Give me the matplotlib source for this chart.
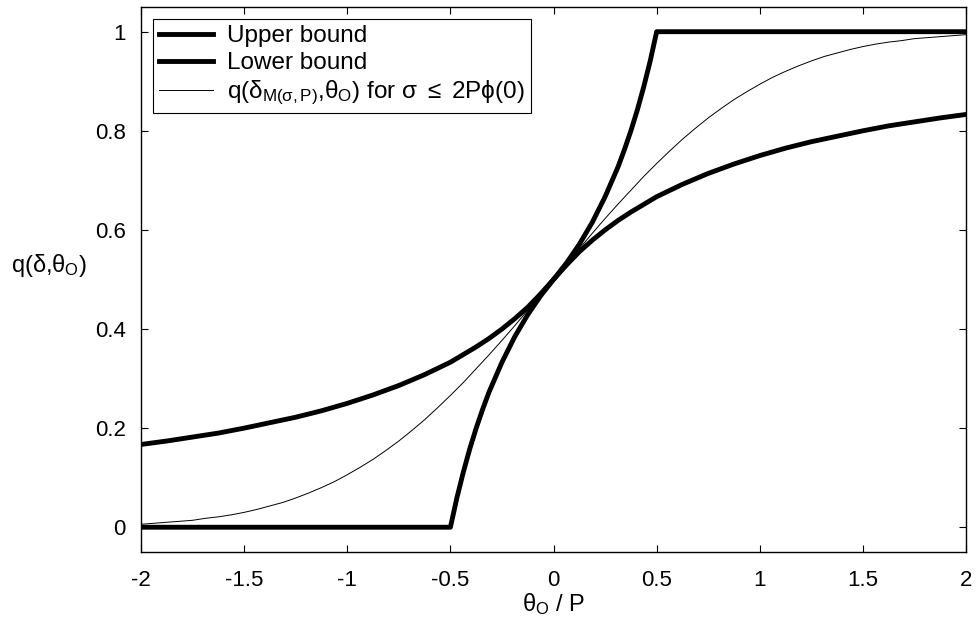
import matplotlib; matplotlib.use("Agg")
import matplotlib.pyplot as plt

plt.rcParams["font.family"] = ["Liberation Sans", "DejaVu Sans"]
plt.rcParams["mathtext.fontset"] = "custom"
plt.rcParams["mathtext.rm"] = "Liberation Sans"
plt.rcParams["mathtext.it"] = "Liberation Sans"
plt.rcParams["mathtext.sf"] = "Liberation Sans"

# values (theta_O / P on x)
x_thin = [-2, -1.9375, -1.875, -1.8125, -1.75, -1.6875, -1.625, -1.5625, -1.5, -1.4375,
          -1.375, -1.3125, -1.25, -1.1875, -1.125, -1.0625, -1, -0.9375, -0.875, -0.8125,
          -0.75, -0.6875, -0.625, -0.5625, -0.5, -0.4375, -0.375, -0.3125, -0.25, -0.1875,
          -0.125, -0.0625, 0, 0.0625, 0.125, 0.1875, 0.25, 0.3125, 0.375, 0.4375, 0.5,
          0.5625, 0.625, 0.6875, 0.75, 0.8125, 0.875, 0.9375, 1, 1.0625, 1.125, 1.1875,
          1.25, 1.3125, 1.375, 1.4375, 1.5, 1.5625, 1.625, 1.6875, 1.75, 1.8125, 1.875,
          1.9375, 2]
thin = [0.006, 0.008, 0.010, 0.012, 0.014, 0.018, 0.021, 0.025, 0.030, 0.036,
        0.043, 0.050, 0.059, 0.069, 0.080, 0.092, 0.106, 0.121, 0.137, 0.155,
        0.174, 0.195, 0.217, 0.241, 0.266, 0.292, 0.320, 0.348, 0.377, 0.407,
        0.438, 0.469, 0.500, 0.531, 0.562, 0.593, 0.623, 0.652, 0.680, 0.708, 0.734,
        0.759, 0.783, 0.805, 0.826, 0.845, 0.863, 0.879, 0.894, 0.908, 0.920, 0.931,
        0.941, 0.950, 0.957, 0.964, 0.970, 0.975, 0.979, 0.982, 0.986, 0.988, 0.990,
        0.992, 0.994]

x_low = [-2, -1.875, -1.75, -1.625, -1.5, -1.375, -1.25, -1.125, -1, -0.875, -0.75, -0.625,
         -0.5, -0.375, -0.3125, -0.25, -0.1875, -0.125, -0.0625, 0, 0.0625, 0.125, 0.1875,
         0.25, 0.3125, 0.375, 0.5, 0.625, 0.75, 0.875, 1, 1.125, 1.25, 1.375, 1.5, 1.625,
         1.75, 1.875, 2]
lower = [0.167, 0.174, 0.182, 0.190, 0.200, 0.211, 0.222, 0.235, 0.250, 0.267, 0.286, 0.308,
         0.333, 0.364, 0.381, 0.400, 0.421, 0.444, 0.471, 0.500, 0.529, 0.556, 0.579,
         0.600, 0.619, 0.636, 0.667, 0.692, 0.714, 0.733, 0.750, 0.765, 0.778, 0.789,
         0.800, 0.810, 0.818, 0.826, 0.833]

x_up = [-2, -0.5, -0.46875, -0.4375, -0.40625, -0.375, -0.34375, -0.3125, -0.25, -0.1875,
        -0.125, -0.0625, 0, 0.0625, 0.125, 0.1875, 0.25, 0.3125, 0.34375, 0.375, 0.40625,
        0.4375, 0.46875, 0.5, 2]
upper = [0, 0, 0.059, 0.111, 0.158, 0.200, 0.238, 0.273, 0.333, 0.385,
         0.429, 0.467, 0.500, 0.533, 0.571, 0.615, 0.667, 0.727, 0.762, 0.800, 0.842,
         0.889, 0.941, 1, 1]

xticks = [-2, -1.5, -1, -0.5, 0, 0.5, 1, 1.5, 2]
xtick_labels = ["-2", "-1.5", "-1", "-0.5", "0", "0.5", "1", "1.5", "2"]
yticks = [0, 0.2, 0.4, 0.6, 0.8, 1]
ytick_labels = ["0", "0.2", "0.4", "0.6", "0.8", "1"]

fig = plt.figure(figsize=(9.76, 6.29), dpi=100)
ax = fig.add_axes([0.1445, 0.1224, 0.8453, 0.8666])

ax.plot(x_up, upper, "-", color="k", lw=3.5, solid_joinstyle="round", label="Upper bound")
ax.plot(x_low, lower, "-", color="k", lw=3.5, solid_joinstyle="round", label="Lower bound")
ax.plot(x_thin, thin, "-", color="k", lw=0.7,
        label=r"q($\delta_{\mathrm{M(\sigma,P)}}$,$\theta_{\mathrm{O}}$) for $\sigma$ $\leq$ 2P$\phi$(0)")

ax.set_xlim(-2, 2)
ax.set_ylim(-0.05, 1.05)
ax.set_xticks(xticks)
ax.set_xticklabels(xtick_labels)
ax.set_yticks(yticks)
ax.set_yticklabels(ytick_labels)
ax.tick_params(direction="in", length=5, width=0.8, labelsize=16, top=True, right=True)
ax.tick_params(axis="x", pad=13)
ax.tick_params(axis="y", pad=11)
for s in ax.spines.values():
    s.set_linewidth(1.0)

ax.set_xlabel(r"$\theta_{\mathrm{O}}$ / P", fontsize=17, labelpad=0)
ax.set_ylabel(r"q($\delta$,$\theta_{\mathrm{O}}$)", fontsize=17, rotation=0)
ax.yaxis.set_label_coords(-0.112, 0.5)

leg = ax.legend(loc="upper left", fontsize=17.5, handlelength=2.2, handletextpad=0.6,
                labelspacing=0.2, borderpad=0.25, borderaxespad=0.5, fancybox=False,
                framealpha=1, edgecolor="k")
leg.get_frame().set_linewidth(0.8)

fig.savefig("out.png", dpi=100)
